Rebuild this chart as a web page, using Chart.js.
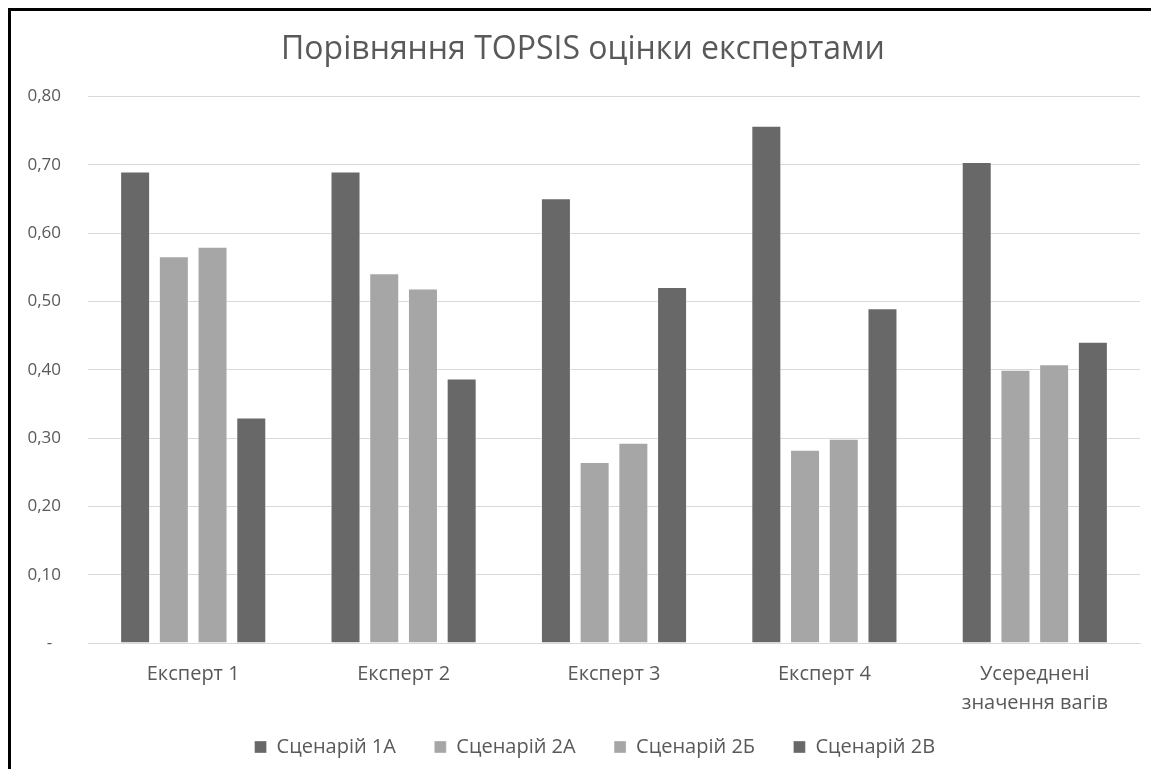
<!DOCTYPE html>
<html>
<head>
<meta charset="utf-8">
<script src="https://cdn.jsdelivr.net/npm/chart.js@4/dist/chart.umd.min.js"></script>
<style>
  html, body { margin: 0; padding: 0; background: #fff; }
  #frame {
    position: absolute; left: 8px; top: 8px; right: 0; bottom: 0;
    border-left: 3px solid #000; border-top: 3px solid #000;
  }
  #wrap { position: absolute; left: 0; top: 0; right: 0; bottom: 0; }
</style>
</head>
<body>
<div id="frame"><div id="wrap"><canvas id="topsisChart"></canvas></div></div>
<script>
const experts = ['Експерт 1', 'Експерт 2', 'Експерт 3', 'Експерт 4', ['Усереднені', 'значення вагів']];
const scen1A = [0.690, 0.690, 0.651, 0.757, 0.704];
const scen2A = [0.566, 0.541, 0.265, 0.283, 0.400];
const scen2B = [0.580, 0.519, 0.293, 0.299, 0.408];
const scen2V = [0.330, 0.387, 0.521, 0.490, 0.441];
const seriesNames = ['Сценарій 1А', 'Сценарій 2А', 'Сценарій 2Б', 'Сценарій 2В'];

const dark = '#686868';
const light = '#a6a6a6';
const textColor = '#595959';
const gridColor = '#d9d9d9';
const font = '"Open Sans", "Noto Sans", sans-serif';

function makeSet(label, data, color) {
    return {
        label,
        data,
        backgroundColor: color,
        borderColor: 'rgba(255,255,255,0.35)',
        borderWidth: 1,
        borderSkipped: 'bottom',
        categoryPercentage: 0.736,
        barPercentage: 0.775,
    };
}

// nudge the legend row a little to the right of the canvas centre
const legendShift = {
    id: 'legendShift',
    afterLayout(chart) {
        chart.legend.left += 30;
        chart.legend.right += 30;
    },
};

new Chart(document.getElementById('topsisChart'), {
    type: 'bar',
    data: {
        labels: experts,
        datasets: [
            makeSet(seriesNames[0], scen1A, dark),
            makeSet(seriesNames[1], scen2A, light),
            makeSet(seriesNames[2], scen2B, light),
            makeSet(seriesNames[3], scen2V, dark),
        ],
    },
    plugins: [legendShift],
    options: {
        responsive: true,
        maintainAspectRatio: false,
        animation: false,
        layout: { padding: { left: 15, right: 11, top: 20, bottom: 2 } },
        plugins: {
            title: {
                display: true,
                text: 'Порівняння TOPSIS оцінки експертами',
                color: textColor,
                font: { family: font, size: 32, weight: 'normal' },
                padding: { top: 0, bottom: 27 },
            },
            legend: {
                position: 'bottom',
                labels: {
                    color: textColor,
                    font: { family: font, size: 20 },
                    boxWidth: 12,
                    boxHeight: 12,
                    padding: 2,
                    // trailing spaces widen the gap between legend entries
                    generateLabels: chart =>
                        Chart.defaults.plugins.legend.labels.generateLabels(chart)
                            .map(item => ({ ...item, text: item.text + '       ' })),
                },
            },
            tooltip: { enabled: false },
        },
        scales: {
            x: {
                grid: { display: false, drawTicks: false },
                border: { color: gridColor },
                ticks: {
                    color: textColor,
                    font: { family: font, size: 20, lineHeight: 1.45 },
                    padding: 17,
                },
            },
            y: {
                min: 0,
                max: 0.8,
                grid: { color: gridColor, lineWidth: 1, drawTicks: false },
                border: { display: false },
                afterFit: scale => { scale.width = 62; },
                ticks: {
                    stepSize: 0.1,
                    color: textColor,
                    font: { family: font, size: 17 },
                    padding: 27,
                    callback: v => v === 0 ? '-  ' : v.toFixed(2).replace('.', ','),
                },
            },
        },
    },
});
</script>
</body>
</html>
